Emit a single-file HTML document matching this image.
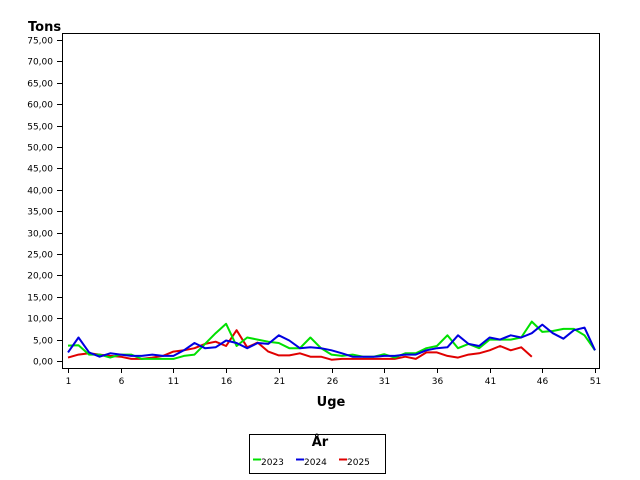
<!DOCTYPE html>
<html><head><style>body{margin:0;background:#fff}svg{display:block}text{font-family:"DejaVu Sans","Liberation Sans",sans-serif}</style></head>
<body>
<svg id="s" width="640" height="480" xmlns="http://www.w3.org/2000/svg">
<rect x="0" y="0" width="640" height="480" fill="#fff"/>
<rect x="62.5" y="33.5" width="537" height="335" fill="none" stroke="#000" stroke-width="1"/>
<text x="28" y="31" font-size="13" font-weight="bold">Tons</text>
<text x="331" y="406" font-size="13" font-weight="bold" text-anchor="middle">Uge</text>
<g id="ax"></g>
<g id="lines" fill="none" stroke-width="2" stroke-linejoin="round"></g>
<rect x="249.5" y="434.5" width="136" height="39" fill="#fff" stroke="#000"/>
<text x="320" y="446" font-size="13" font-weight="bold" text-anchor="middle">År</text>
<line x1="253" y1="459.5" x2="261" y2="459.5" stroke="#00e000" stroke-width="2"/>
<text x="261" y="465" font-size="9">2023</text>
<line x1="296" y1="459.5" x2="304" y2="459.5" stroke="#0000e0" stroke-width="2"/>
<text x="304" y="465" font-size="9">2024</text>
<line x1="339" y1="459.5" x2="347" y2="459.5" stroke="#e00000" stroke-width="2"/>
<text x="347" y="465" font-size="9">2025</text>
</svg>
<script>
var NS="http://www.w3.org/2000/svg";
function el(p,t,a,txt){var e=document.createElementNS(NS,t);for(var k in a)e.setAttribute(k,a[k]);if(txt)e.textContent=txt;p.appendChild(e);return e;}
var ax=document.getElementById("ax"),L=document.getElementById("lines");
function Y(v){return 361-v*4.28;}
function X(w){return 68+(w-1)*10.54;}
for(var v=0;v<=75;v+=5){var y=Math.round(Y(v))+0.5;el(ax,"line",{x1:57,y1:y,x2:62,y2:y,stroke:"#000"});
el(ax,"text",{x:53,y:y+3,"font-size":"9","text-anchor":"end"},v.toFixed(2).replace(".",","));}
for(var w=1;w<=51;w+=5){var x=Math.round(X(w))+0.5;el(ax,"line",{x1:x,y1:368,x2:x,y2:373,stroke:"#000"});
el(ax,"text",{x:x,y:384,"font-size":"9","text-anchor":"middle"},""+w);}
var g=[3.6,3.7,1.5,1.5,0.8,1.5,1.5,0.5,0.5,0.5,0.5,1.2,1.5,4,6.5,8.7,3.5,5.5,5,4.5,4.2,3,3,5.5,3,1.5,1.2,1.5,1,1,1.6,0.8,1.8,1.8,3,3.5,6,3,4,3,5,5,5,5.5,9.2,6.8,7,7.5,7.5,6,2.5];
var b=[2,5.5,2,1,1.8,1.5,1.2,1.2,1.5,1.2,1.2,2.5,4.2,3,3.2,4.8,4.2,3,4.2,4,6,4.8,3,3.2,3,2.5,1.8,1,1,1,1.2,1.2,1.5,1.5,2.5,3,3.2,6,4,3.5,5.5,5,6,5.5,6.5,8.5,6.5,5.2,7.2,7.8,2.5];
var r=[0.8,1.5,1.8,1.5,1.2,1,0.5,0.5,0.8,1.2,2.2,2.5,3,4,4.5,3.5,7.2,3.2,4.3,2.2,1.3,1.3,1.8,1,1,0.3,0.5,0.5,0.5,0.5,0.5,0.5,1,0.5,2,2,1.2,0.8,1.5,1.8,2.5,3.5,2.5,3.2,1];
[[r,"#e00000"],[g,"#00e000"],[b,"#0000e0"]].forEach(function(s){
el(L,"polyline",{points:s[0].map(function(v,i){return X(i+1).toFixed(1)+","+Y(v).toFixed(1)}).join(" "),stroke:s[1]});});
</script>
</body></html>
